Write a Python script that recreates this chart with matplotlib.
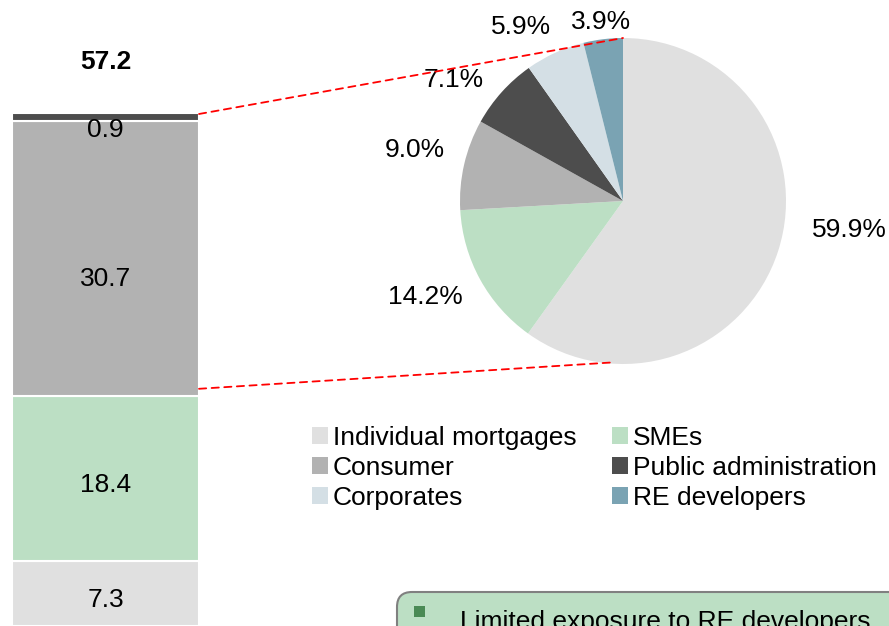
import matplotlib
matplotlib.use("Agg")
import matplotlib.pyplot as plt
from matplotlib.patches import ConnectionPatch, FancyBboxPatch, Rectangle, Patch
import numpy as np

plt.rcParams['font.family'] = ['Liberation Sans', 'DejaVu Sans']

# stacked bar (bottom to top)
bar_labels = ['Other', 'SMEs', 'Consumer', 'Public administration']
bar_values = [7.3, 18.4, 30.7, 0.9]
bar_total = 57.2

# pie breakdown
pie_labels = ['Individual mortgages', 'SMEs', 'Consumer',
              'Public administration', 'Corporates', 'RE developers']
pie_values = [59.9, 14.2, 9.0, 7.1, 5.9, 3.9]

note_text = 'Limited exposure to RE developers'

COLORS = {
    'Individual mortgages': '#e0e0e0',
    'Other': '#e0e0e0',
    'SMEs': '#bcdfc4',
    'Consumer': '#b2b2b2',
    'Public administration': '#4d4d4d',
    'Corporates': '#d4dfe5',
    'RE developers': '#7aa3b3',
}
FS = 19

W, H = 889, 626
fig = plt.figure(figsize=(W / 100, H / 100), dpi=100)

# --- stacked bar ---
ax_bar = fig.add_axes([12 / W, 0 / H, 187 / W, 512 / H])
# label nudges (points), the source places them a bit low
label_off = [-5, -4.5, -14.5, -9]
bottom = 0
for lab, val, off in zip(bar_labels, bar_values, label_off):
    ax_bar.bar(0, val, width=1.0, bottom=bottom, color=COLORS[lab],
               edgecolor='white', linewidth=1.5)
    ax_bar.annotate('{:.1f}'.format(val), (0, bottom + val / 2),
                    xytext=(0, off), textcoords='offset points',
                    ha='center', va='center', fontsize=FS)
    bottom += val
ax_bar.annotate('{:.1f}'.format(bar_total), (0, bar_total),
                xytext=(0, 37.5), textcoords='offset points',
                ha='center', va='center', fontsize=FS, fontweight='bold')
ax_bar.set_xlim(-0.5, 0.5)
ax_bar.set_ylim(0, bar_total)
ax_bar.axis('off')

# --- pie ---
cx, cy, r = 623, 201, 163
ax_pie = fig.add_axes([(cx - r) / W, (H - cy - r) / H, 2 * r / W, 2 * r / H])
ax_pie.pie(pie_values, colors=[COLORS[l] for l in pie_labels],
           startangle=90, counterclock=False,
           wedgeprops=dict(linewidth=0))
ax_pie.set_xlim(-1, 1)
ax_pie.set_ylim(-1, 1)
ax_pie.set_aspect('equal')
ax_pie.axis('off')

# label positions in radius units
label_pos = [(1.39, -0.18), (-1.215, -0.59), (-1.276, 0.31),
             (-1.04, 0.745), (-0.626, 1.067), (-0.135, 1.098)]
for v, (lx, ly) in zip(pie_values, label_pos):
    ax_pie.text(lx, ly, '{:.1f}%'.format(v), ha='center', va='center',
                fontsize=FS, clip_on=False)

# connectors
for ya, pb in [(bar_total, (0, 1)), (bar_values[0] + bar_values[1] + 0.8, (-0.06, -0.99))]:
    con = ConnectionPatch(xyA=(0.5, ya), coordsA=ax_bar.transData,
                          xyB=pb, coordsB=ax_pie.transData,
                          color='#ff0000', linewidth=1.3, linestyle=(0, (4, 3)))
    fig.add_artist(con)

# --- legend ---
order = [0, 2, 4, 1, 3, 5]
handles = [Patch(facecolor=COLORS[pie_labels[i]], edgecolor='none') for i in order]
fig.legend(handles, [pie_labels[i] for i in order], ncol=2,
           loc='upper left', bbox_to_anchor=(312 / W, 1 - 426 / H),
           frameon=False, fontsize=FS, handlelength=0.6, handleheight=0.6,
           handletextpad=0.2, columnspacing=1.33, labelspacing=0.22,
           borderpad=0, borderaxespad=0)

# --- callout box ---
box = FancyBboxPatch((3.97, -0.6), 6.0, 0.94,
                     boxstyle='round,pad=0,rounding_size=0.15',
                     transform=fig.dpi_scale_trans, facecolor='#bcdfc4',
                     edgecolor='#808080', linewidth=1.5)
fig.add_artist(box)
fig.add_artist(Rectangle((4.14, 0.09), 0.11, 0.11, transform=fig.dpi_scale_trans,
                         facecolor='#4a8a55', edgecolor='none'))
fig.text(4.60, -0.03, note_text, transform=fig.dpi_scale_trans,
         fontsize=FS, va='baseline', ha='left')

fig.savefig('out.png', dpi=100)
